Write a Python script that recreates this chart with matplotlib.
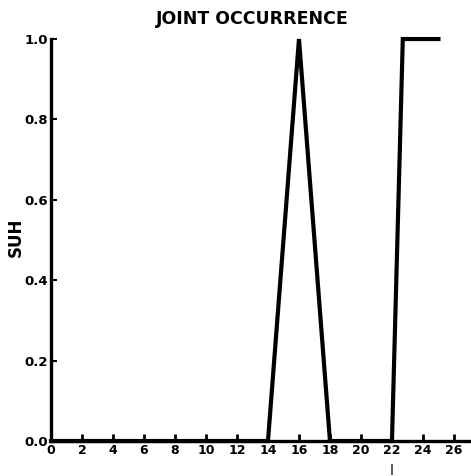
import matplotlib
matplotlib.use("Agg")
import matplotlib.pyplot as plt

# Joint occurrence curve
x_vals = [0, 14, 16, 18, 22, 22.7, 25]
y_vals = [0, 0, 1.0, 0, 0, 1.0, 1.0]

x_ticks = [0, 2, 4, 6, 8, 10, 12, 14, 16, 18, 20, 22, 24, 26]
y_ticks = [0.0, 0.2, 0.4, 0.6, 0.8, 1.0]
y_tick_labels = ["0.0", "0.2", "0.4", "0.6", "0.8", "1.0"]

title = "JOINT OCCURRENCE"
y_label = "SUH"

plt.rcParams["font.family"] = "DejaVu Sans"
plt.rcParams["font.weight"] = "bold"

fig = plt.figure(figsize=(4.71, 4.76), dpi=100)
ax = fig.add_axes([0.1083, 0.0735, 0.8917, 0.8445])

ax.plot(x_vals, y_vals, color="black", lw=3.0, solid_joinstyle="miter",
        clip_on=False)

ax.set_xlim(0, 27.1)
ax.set_ylim(0, 1.0)

for side in ("top", "right"):
    ax.spines[side].set_visible(False)
for side in ("left", "bottom"):
    ax.spines[side].set_linewidth(2.4)

ax.set_xticks(x_ticks)
ax.set_xticklabels([str(t) for t in x_ticks], fontsize=9, fontweight="heavy")
ax.set_yticks(y_ticks)
ax.set_yticklabels(y_tick_labels, fontsize=9.5, fontweight="heavy")
ax.tick_params(axis="x", direction="in", length=5, width=2, pad=2)
ax.tick_params(axis="y", direction="in", length=4, width=1.5, pad=2)

ax.set_title(title, fontsize=12.5, fontweight="heavy", pad=11, x=0.48)
ax.set_ylabel(y_label, fontsize=12, fontweight="heavy")
ax.yaxis.set_label_coords(-0.062, 0.507)

ax.text(22, -0.072, "|", ha="center", va="center", fontsize=8,
        fontweight="bold", clip_on=False)

fig.savefig("out.png", dpi=100)
